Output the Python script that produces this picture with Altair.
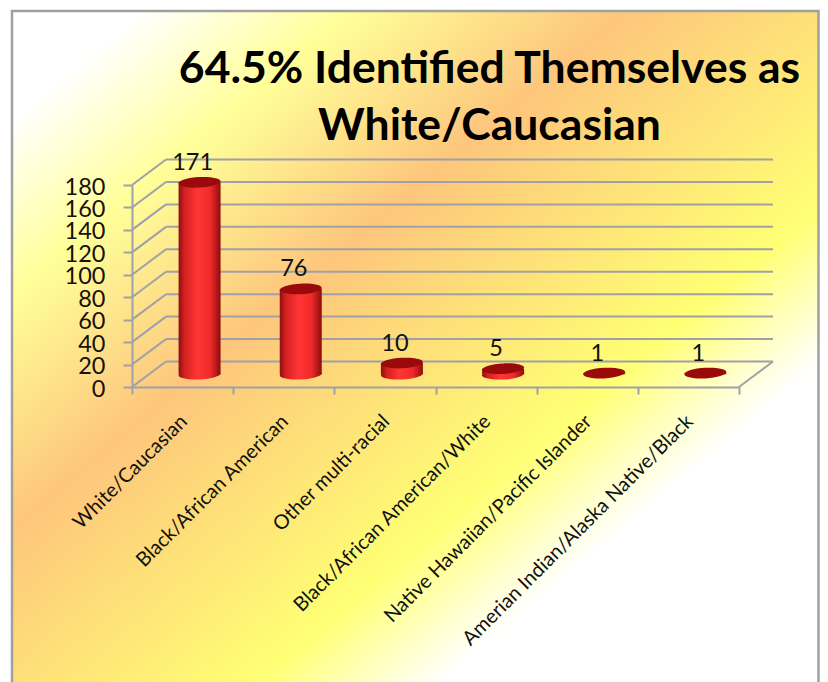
import altair as alt
import pandas as pd

categories = ["White/Caucasian", "Black/African American", "Other multi-racial",
              "Black/African American/White", "Native Hawaiian/Pacific Islander",
              "Amerian Indian/Alaska Native/Black"]
counts = [171, 76, 10, 5, 1, 1]
y_ticks = [0, 20, 40, 60, 80, 100, 120, 140, 160, 180]
title_lines = ["64.5% Identified Themselves as", "White/Caucasian"]

W, H = 607, 202
DX, DY = 34, 25.5
MX, MY = 17, 12.75
FONT = "Lato"
GRID = "#a0a0a8"

df = pd.DataFrame({"cat": categories, "n": counts, "zero": [0] * 6})
gf = pd.DataFrame({"v": y_ticks})

xs = alt.Scale(domain=categories, paddingInner=0, paddingOuter=0)
ys = alt.Scale(domain=[0, 180], nice=False, zero=True)
xenc = alt.X("cat:N", scale=xs, sort=None, title=None, axis=alt.Axis(
    tickBand="extent", labelAngle=-45, labelAlign="right", labelBaseline="middle",
    labelFont=FONT, labelFontSize=20, labelColor="#111", labelOffset=1, labelPadding=24,
    labelLimit=500, labelOverlap=False, tickSize=7, tickWidth=2, tickColor=GRID,
    domainColor=GRID, domainWidth=2, zindex=1))
yaxis = alt.Axis(values=y_ticks, tickSize=9, tickWidth=2, tickColor=GRID, domainColor=GRID,
                 domainWidth=2, labelFont=FONT, labelFontSize=23.5, labelColor="#1a1008",
                 labelPadding=18, labelOverlap=False, labelFlush=False, labelOffset=2,
                 grid=False, zindex=1)
yenc = alt.Y("n:Q", scale=ys, title=None, axis=yaxis)

bg = alt.Chart(pd.DataFrame({"a": [0]})).mark_rect(
    fill=alt.Gradient(gradient="linear", x1=0, y1=0, x2=1, y2=1, stops=[
        alt.GradientStop(offset=0.08, color="#ffffff"),
        alt.GradientStop(offset=0.21, color="#ffff99"),
        alt.GradientStop(offset=0.38, color="#fdc67c"),
        alt.GradientStop(offset=0.645, color="#ffff74"),
        alt.GradientStop(offset=0.76, color="#ffffff"),
    ]), stroke="#a0a0a0", strokeWidth=2.5
).encode(x=alt.value(-120), x2=alt.value(686.5), y=alt.value(-174), y2=alt.value(505))

back = alt.Chart(gf).mark_rule(color=GRID, strokeWidth=2, yOffset=-DY).encode(
    y=alt.Y("v:Q", scale=ys, title=None, axis=yaxis),
    x=alt.value(DX), x2=alt.value(W + DX))

side = alt.Chart(gf).transform_calculate(b="datum.v + 22.7").mark_rule(color=GRID, strokeWidth=2).encode(
    y=alt.Y("v:Q", scale=ys, title=None, axis=yaxis), y2="b:Q", x=alt.value(0), x2=alt.value(DX))

floor_edge = alt.Chart(pd.DataFrame({"v": [0], "b": [22.7]})).mark_rule(color=GRID, strokeWidth=2).encode(
    y=alt.Y("v:Q", scale=ys, title=None, axis=yaxis), y2="b:Q", x=alt.value(W), x2=alt.value(W + DX))

cyl = alt.Gradient(gradient="linear", x1=0, y1=0, x2=1, y2=0, stops=[
    alt.GradientStop(offset=0, color="#8c0f0f"),
    alt.GradientStop(offset=0.14, color="#d42020"),
    alt.GradientStop(offset=0.45, color="#ff3636"),
    alt.GradientStop(offset=0.75, color="#f02a2a"),
    alt.GradientStop(offset=1, color="#8f0d0d"),
])
ELLIPSE = "M-1,0.05 A1,0.25,-3,1,1,1,-0.05 A1,0.25,-3,1,1,-1,0.05 Z"

bottoms = alt.Chart(df).transform_filter("datum.n > 1").mark_point(
    shape=ELLIPSE, size=1764, filled=True, fill=cyl, opacity=1, xOffset=MX, yOffset=-MY).encode(
    x=xenc, y=alt.Y("zero:Q", scale=ys, title=None, axis=yaxis))

bars = alt.Chart(df).mark_bar(fill=cyl, size=42, xOffset=MX, x2Offset=MX, yOffset=-MY, y2Offset=-MY).encode(
    x=xenc, y=yenc, y2="zero:Q")

tops = alt.Chart(df).mark_point(
    shape=ELLIPSE, size=1764, filled=True, fill="#9b0a0a", opacity=1, xOffset=MX, yOffset=-MY).encode(
    x=xenc, y=yenc)

labels = alt.Chart(df).mark_text(font=FONT, fontSize=23.5, color="#111", baseline="middle",
                                 xOffset=10, yOffset=-MY - 19.5).encode(
    x=xenc, y=yenc, text="n:Q")

chart = alt.layer(bg, back, side, floor_edge, bottoms, bars, tops, labels).properties(
    width=W, height=H,
    padding={"left": 124, "top": 177, "right": 81, "bottom": 295},
    autosize=alt.AutoSizeParams(type="none"),
    title=alt.TitleParams(text=title_lines, font=FONT, fontSize=44.5, fontWeight="bold", color="#000",
                          anchor="middle", dx=54, lineHeight=57, offset=-140),
).configure_view(stroke=None)

chart.save("out.html", embed_options={"renderer": "svg", "actions": False})
